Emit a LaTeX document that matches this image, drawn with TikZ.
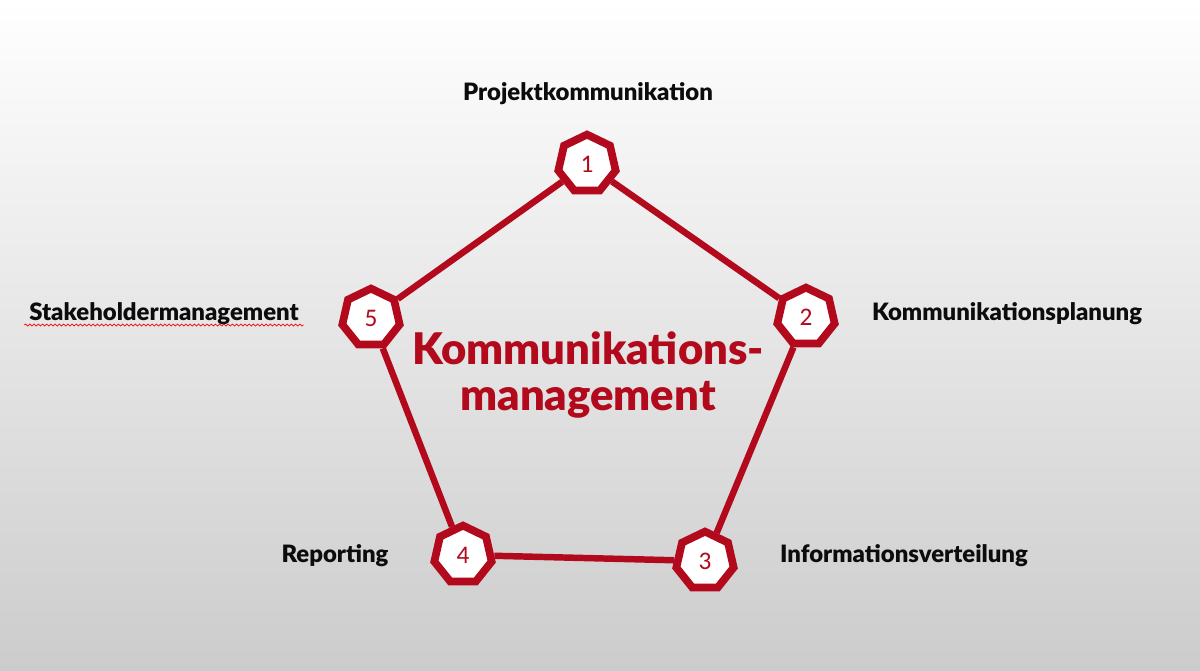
\documentclass[tikz,border=0pt]{standalone}
\usepackage{fontspec}
\setmainfont{Lato}[BoldFont={Lato Black}]
\newfontfamily\digitfont{Carlito}
\usepackage{tikz}
\usetikzlibrary{shapes.geometric, decorations.pathmorphing}
\definecolor{kommred}{RGB}{178, 10, 28}
\definecolor{labelblack}{RGB}{12, 12, 12}
\definecolor{backgray}{RGB}{204, 204, 204}

\begin{document}
\begin{tikzpicture}[x=0.025cm, y=-0.025cm,
  phase/.style={regular polygon, regular polygon sides=7, draw=kommred,
    line width=5.5pt, fill=white, minimum size=1.47cm, inner sep=0pt,
    text=kommred, font=\digitfont\fontsize{18}{18}\selectfont},
  topic/.style={text=labelblack, font=\bfseries\fontsize{17}{17}\selectfont},
  link/.style={draw=kommred, line width=4.6pt}]
  % background: white at the top, grey at the bottom
  \shade[top color=white, bottom color=backgray] (0,0) rectangle (1200,670);
  \useasboundingbox (0,0) rectangle (1200,670);
  % the five phases
  \node[phase] (p1) at (587,164) {1};
  \node[phase] (p2) at (806,317) {2};
  \node[phase] (p3) at (705,561) {3};
  \node[phase] (p4) at (463,555) {4};
  \node[phase] (p5) at (371,318) {5};
  % sides of the pentagon
  \draw[link] (p1) -- (p2) -- (p3) -- (p4) -- (p5) -- (p1);
  % centre title
  \node[text=kommred, align=center,
    font=\bfseries\fontsize{31}{33}\selectfont] (title) at (588,375)
    {Kommunikations-\\management};
  % labels
  \node[topic] (projekt) at (588,94) {Projektkommunikation};
  \node[topic] (stake)   at (164,314) {Stakeholdermanagement};
  \node[topic] (planung) at (1007,314) {Kommunikationsplanung};
  \node[topic] (report)  at (335,556) {Reporting};
  \node[topic] (verteil) at (904,556) {Informationsverteilung};
  \draw[red, line width=0.5pt, decorate,
    decoration={snake, amplitude=0.7pt, segment length=3pt}]
    ([yshift=-3pt]stake.base west) -- ([yshift=-3pt]stake.base east);
\end{tikzpicture}
\end{document}
